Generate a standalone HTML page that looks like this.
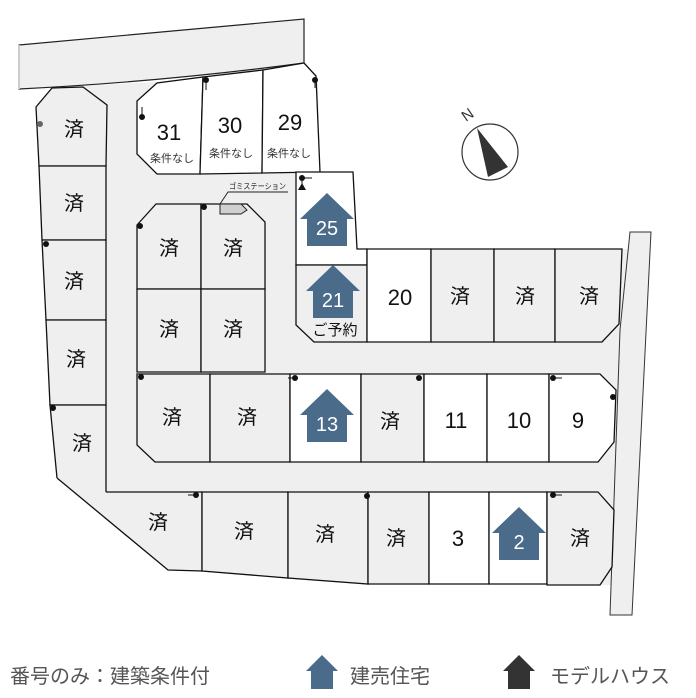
<!DOCTYPE html>
<html><head><meta charset="utf-8"><style>
html,body{margin:0;padding:0;background:#fff;}
svg{display:block;}
text{font-family:"Liberation Sans","Noto Sans CJK JP",sans-serif;}
</style></head><body>
<svg width="696" height="698" viewBox="0 0 696 698" xmlns="http://www.w3.org/2000/svg">
<defs>
<symbol id="h" viewBox="-28 0 56 54" overflow="visible"><polygon points="0,0 27,26 20,26 20,53 -20,53 -20,26 -27,26"/></symbol>
</defs>
<!-- site background gray -->
<polygon fill="#efefef" points="36,105 52,87 157,82 304,63 318,82 320,172 353,172 357,249 630,249 630,232 651,232 632,615 610,615 612,585 370,584 287,578 202,571 168,570 57,478"/>
<!-- top road -->
<path d="M19,45 L304,19 L304,63 Q160,82 19,89 Z" fill="#efefef" stroke="#222" stroke-width="1.2"/>
<path d="M19,45 L19,89" stroke="#ccc" stroke-width="2"/>
<!-- right road -->
<polygon points="630,232 651,232 632,615 610,615 620,330" fill="#efefef" stroke="#333" stroke-width="1"/>
<g stroke="#111" stroke-width="1.3" fill="#efefef">
<!-- left column -->
<polygon points="36,107 52,88 83,87 107,105 106,166 39,166"/>
<polygon points="39,166 106,166 106,240 42,240"/>
<polygon points="42,240 106,240 106,320 46,320"/>
<polygon points="46,320 106,320 106,405 50,405"/>
<polyline points="57,478 50,405 106,405 106,492"/>
<!-- top lots -->
<polygon fill="#fff" points="137,101 157,83 203,77 200,174 157,174 137,154"/>
<polygon fill="#fff" points="203,77 263,70 262,173 200,174"/>
<polygon fill="#fff" points="263,70 304,63 316,76 320,172 262,173"/>
<!-- middle block -->
<polygon points="137,225 156,204 201,204 201,289 137,289"/>
<polygon points="201,204 247,204 265,222 265,289 201,289"/>
<polygon points="137,289 201,289 201,372 137,372"/>
<polygon points="201,289 265,289 265,372 201,372"/>
<!-- 25 / 21 row -->
<polygon fill="#fff" points="296,172 353,172 357,249 367,249 367,265 296,265"/>
<polygon points="296,265 367,265 367,342 314,342 296,325"/>
<polygon fill="#fff" points="367,249 431,249 431,342 367,342"/>
<polygon points="431,249 494,249 494,342 431,342"/>
<polygon points="494,249 555,249 555,342 494,342"/>
<polygon points="555,249 622,249 619,324 602,342 555,342"/>
<!-- row 3 -->
<polygon points="137,374 210,374 210,462 155,462 137,445"/>
<polygon points="210,374 290,374 290,462 210,462"/>
<polygon fill="#fff" points="290,374 361,374 361,462 290,462"/>
<polygon points="361,374 424,374 424,462 361,462"/>
<polygon fill="#fff" points="424,374 487,374 487,462 424,462"/>
<polygon fill="#fff" points="487,374 549,374 549,462 487,462"/>
<polygon fill="#fff" points="549,374 600,374 616,390 614,442 598,462 549,462"/>
<!-- bottom row -->
<polyline fill="none" points="106,492 202,492 202,571"/>
<polygon points="202,492 288,492 288,578 202,571"/>
<polygon points="288,492 368,492 368,584 288,578"/>
<polygon points="368,492 429,492 429,584 368,584"/>
<polygon fill="#fff" points="429,492 489,492 489,584 429,584"/>
<polygon fill="#fff" points="489,492 547,492 547,584 489,584"/>
<polygon points="547,492 598,492 614,510 612,567 600,585 547,585"/>
</g>
<polyline points="57,478 168,570 202,571" stroke="#111" stroke-width="1.3" fill="none"/>
<!-- gomi station -->
<polygon points="220,204 241,204 247,210 241,214 220,214" fill="#d0d0d0" stroke="#222" stroke-width="1"/>
<polyline points="220,204 228,192 288,192" fill="none" stroke="#222" stroke-width="1"/>
<text x="229" y="189" font-size="8" fill="#222" textLength="57" lengthAdjust="spacingAndGlyphs">ゴミステーション</text>
<!-- dots -->
<g fill="#111">
<circle cx="40" cy="124" r="3" fill="#666"/><circle cx="46" cy="244" r="3"/><circle cx="53" cy="408" r="3"/>
<circle cx="142" cy="117" r="3"/><circle cx="206" cy="80" r="3"/><circle cx="315" cy="80" r="3"/>
<circle cx="140" cy="226" r="3"/><circle cx="204" cy="207" r="3"/><circle cx="302" cy="178" r="3"/>
<circle cx="141" cy="377" r="3"/><circle cx="295" cy="378" r="3"/><circle cx="419" cy="378" r="3"/>
<circle cx="553" cy="378" r="3"/><circle cx="613" cy="397" r="3"/>
<circle cx="196" cy="495" r="3"/><circle cx="367" cy="496" r="3"/><circle cx="553" cy="495" r="3"/>
</g>
<g stroke="#111" stroke-width="1" fill="none">
<path d="M206,80 V90 M315,80 V88 M142,117 V107 M302,178 H312 M302,178 V190 M295,378 H288 M553,378 H562 M553,495 H562 M196,495 H188"/>
</g>
<polygon points="298,190 306,190 302,183" fill="#111"/>
<!-- labels -->
<g font-size="20" fill="#111" text-anchor="middle">
<text x="74" y="136">済</text><text x="74" y="210">済</text><text x="74" y="288">済</text><text x="76" y="366">済</text><text x="82" y="450">済</text>
<text x="169" y="255">済</text><text x="233" y="255">済</text><text x="169" y="336">済</text><text x="233" y="336">済</text>
<text x="460" y="303">済</text><text x="525" y="303">済</text><text x="589" y="303">済</text>
<text x="172" y="424">済</text><text x="247" y="424">済</text><text x="390" y="428">済</text>
<text x="158" y="529">済</text><text x="244" y="538">済</text><text x="325" y="541">済</text><text x="396" y="545">済</text><text x="580" y="545">済</text>
</g>
<g font-size="22" fill="#111" text-anchor="middle">
<text x="169" y="140">31</text><text x="230" y="133">30</text><text x="290" y="130">29</text>
<text x="400" y="305">20</text><text x="456" y="428">11</text><text x="519" y="428">10</text><text x="578" y="428">9</text>
<text x="458" y="546">3</text>
</g>
<g font-size="11" fill="#333" text-anchor="middle">
<text x="172" y="162">条件なし</text><text x="231" y="157">条件なし</text><text x="289" y="157">条件なし</text>
</g>
<text x="335" y="335" font-size="15" fill="#111" text-anchor="middle">ご予約</text>
<!-- houses -->
<g fill="#4a6b8a">
<use href="#h" x="299" y="193" width="56" height="54"/>
<use href="#h" x="305" y="265" width="56" height="54"/>
<use href="#h" x="299" y="389" width="56" height="54"/>
<use href="#h" x="491" y="507" width="56" height="54"/>
</g>
<g font-size="20" fill="#fff" text-anchor="middle">
<text x="327" y="235">25</text><text x="333" y="307">21</text><text x="327" y="431">13</text><text x="519" y="549">2</text>
</g>
<!-- compass -->
<circle cx="490" cy="152" r="28" fill="#fff" stroke="#333" stroke-width="1.2"/>
<polygon points="477,128 508,167 488,177" fill="#333"/>
<text x="467" y="120" font-size="15" fill="#333" text-anchor="middle" transform="rotate(-35 467 114)">N</text>
<!-- legend -->
<text x="10" y="683" font-size="20" fill="#555">番号のみ：建築条件付</text>
<polygon points="322,655 338,671 333,671 333,689 311,689 311,671 306,671" fill="#4a6b8a"/>
<text x="350" y="683" font-size="20" fill="#555">建売住宅</text>
<polygon points="519,655 535,671 530,671 530,689 508,689 508,671 503,671" fill="#333"/>
<text x="550" y="683" font-size="20" fill="#555">モデルハウス</text>
</svg>
</body></html>
